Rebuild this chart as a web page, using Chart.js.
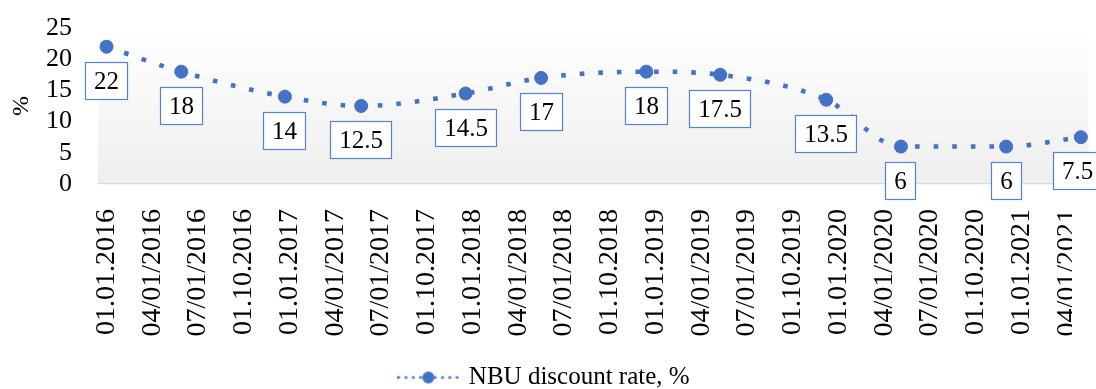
<!DOCTYPE html>
<html>
<head>
<meta charset="utf-8">
<title>NBU discount rate</title>
<script src="https://cdn.jsdelivr.net/npm/chart.js@4.4.0/dist/chart.umd.min.js"></script>
<style>
  html, body { margin: 0; padding: 0; background: #fff; }
  #wrap { width: 1096px; height: 389px; }
</style>
</head>
<body>
<div id="wrap"><canvas id="rate-chart" width="1096" height="389"></canvas></div>
<script>
// Quarterly axis labels (one every 3 months, starting Jan 2016)
const tickLabels = [
  "01.01.2016", "04/01/2016", "07/01/2016", "01.10.2016",
  "01.01.2017", "04/01/2017", "07/01/2017", "01.10.2017",
  "01.01.2018", "04/01/2018", "07/01/2018", "01.10.2018",
  "01.01.2019", "04/01/2019", "07/01/2019", "01.10.2019",
  "01.01.2020", "04/01/2020", "07/01/2020", "01.10.2020",
  "01.01.2021", "04/01/2021"
];

// Months since 01.01.2016 at which each rate point sits
const rateMonths = [0, 4.9, 11.7, 16.7, 23.55, 28.5, 35.4, 40.25, 47.2, 52.1, 59.0, 63.9];
const rateValues = [22, 18, 14, 12.5, 14.5, 17, 18, 17.5, 13.5, 6, 6, 7.5];

const seriesName = "NBU discount rate, %";
const yTitle = "%";

const BLUE = "#4472C4";
const FONT = '"Liberation Serif", "Times New Roman", serif';

Chart.defaults.font.family = FONT;
Chart.defaults.color = "#000";

function makeLegendIcon() {
  const c = document.createElement("canvas");
  c.width = 62;
  c.height = 16;
  const g = c.getContext("2d");
  g.strokeStyle = BLUE;
  g.lineWidth = 2.7;
  g.setLineDash([2.7, 4.6]);
  g.beginPath();
  g.moveTo(0, 8);
  g.lineTo(62, 8);
  g.stroke();
  g.fillStyle = BLUE;
  g.beginPath();
  g.arc(31, 8, 6, 0, Math.PI * 2);
  g.fill();
  return c;
}

// soft grey gradient behind the plot
const plotBackground = {
  id: "plotBackground",
  beforeDraw(chart) {
    const { ctx, chartArea: a } = chart;
    const grad = ctx.createLinearGradient(0, a.top, 0, a.bottom);
    grad.addColorStop(0, "#ffffff");
    grad.addColorStop(1, "#eeeeee");
    ctx.save();
    ctx.fillStyle = grad;
    ctx.fillRect(a.left, a.top, a.right - a.left, a.bottom - a.top);
    ctx.restore();
  },
};

// boxed value labels under each point
const boxedLabels = {
  id: "boxedLabels",
  afterDatasetsDraw(chart) {
    const { ctx } = chart;
    const meta = chart.getDatasetMeta(0);
    ctx.save();
    ctx.font = "25px " + FONT;
    ctx.textAlign = "center";
    ctx.textBaseline = "middle";
    meta.data.forEach((pt, i) => {
      const text = String(rateValues[i]);
      const w = Math.round(ctx.measureText(text).width + 18);
      const h = 38;
      let left = Math.round(pt.x - w / 2);
      if (left + w > chart.width + 6) left = chart.width + 6 - w;
      const top = Math.round(pt.y + 34 - h / 2);
      ctx.fillStyle = "#fff";
      ctx.fillRect(left, top, w, h);
      ctx.strokeStyle = "#5583d2";
      ctx.lineWidth = 1.2;
      ctx.strokeRect(left + 0.5, top + 0.5, w - 1, h - 1);
      ctx.fillStyle = "#000";
      ctx.fillText(text, left + w / 2, top + h / 2 + 1);
    });
    ctx.restore();
  },
};

// the original cuts the last axis label at the chart edge
const edgeClip = {
  id: "edgeClip",
  afterDraw(chart) {
    const { ctx } = chart;
    ctx.save();
    ctx.fillStyle = "#fff";
    ctx.fillRect(1072, 196, chart.width - 1072, 150);
    ctx.restore();
  },
};

function renderChart() {
  const canvas = document.getElementById("rate-chart");
  const points = rateMonths.map((m, i) => ({ x: m, y: rateValues[i] }));
  const legendIcon = makeLegendIcon();

  new Chart(canvas.getContext("2d"), {
    type: "line",
    data: {
      datasets: [
        {
          label: seriesName,
          data: points,
          borderColor: BLUE,
          borderWidth: 4.6,
          borderDash: [4.6, 14],
          borderCapStyle: "butt",
          cubicInterpolationMode: "monotone",
          pointRadius: 6.5,
          pointBackgroundColor: BLUE,
          pointBorderColor: BLUE,
          pointBorderWidth: 1,
          fill: false,
        },
      ],
    },
    options: {
      responsive: false,
      devicePixelRatio: 1,
      animation: false,
      layout: { padding: { top: 28, right: 6, left: 0, bottom: -11 } },
      plugins: {
        tooltip: { enabled: false },
        legend: {
          position: "bottom",
          labels: {
            usePointStyle: true,
            pointStyleWidth: 56,
            padding: 0,
            font: { size: 25 },
            color: "#000",
            generateLabels: () => [
              {
                text: seriesName,
                pointStyle: legendIcon,
                fillStyle: BLUE,
                strokeStyle: BLUE,
                lineWidth: 0,
                hidden: false,
                datasetIndex: 0,
              },
            ],
          },
        },
      },
      scales: {
        x: {
          type: "linear",
          min: -0.56,
          max: 64.4,
          grid: { display: false, drawTicks: false },
          border: { display: false },
          ticks: {
            stepSize: 3,
            includeBounds: false,
            autoSkip: false,
            minRotation: 90,
            maxRotation: 90,
            padding: 25,
            font: { size: 28 },
            color: "#000",
            callback: (v) => tickLabels[Math.round(v / 3)] || "",
          },
          afterFit(scale) {
            scale.height = 181;
            scale.paddingLeft = 0;
            scale.paddingRight = 0;
          },
        },
        y: {
          min: 0,
          max: 25,
          grid: {
            drawTicks: false,
            color: (c) => (c.tick && c.tick.value === 0 ? "#d9d9d9" : "rgba(0,0,0,0)"),
            lineWidth: 1.2,
          },
          border: { display: false },
          ticks: { stepSize: 5, autoSkip: false, padding: 26, font: { size: 26 }, color: "#000" },
          title: {
            display: true,
            text: yTitle,
            font: { size: 24 },
            color: "#000",
            padding: { top: 7, bottom: 0 },
          },
          afterFit(scale) {
            scale.width = 98;
            scale.paddingTop = 0;
            scale.paddingBottom = 0;
          },
        },
      },
    },
    plugins: [plotBackground, boxedLabels, edgeClip],
  });
}

renderChart();
</script>
</body>
</html>
